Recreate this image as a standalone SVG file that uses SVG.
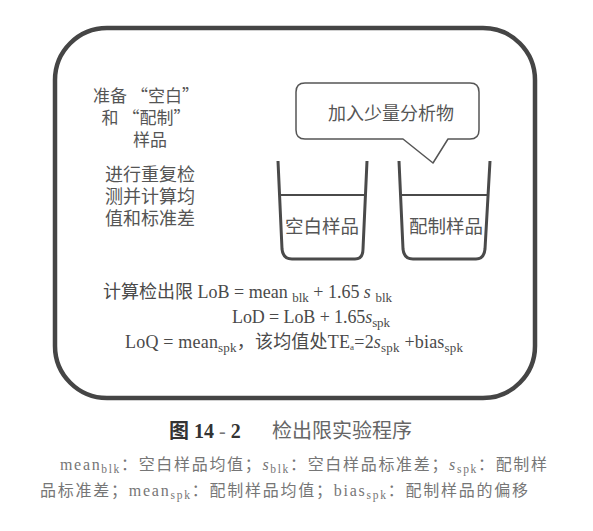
<svg xmlns="http://www.w3.org/2000/svg" width="593" height="531" viewBox="0 0 593 531">
<style>
.cjk{font-family:"Noto Sans CJK SC","Noto Sans",sans-serif;fill:#555}
.f{font-family:"Liberation Serif","Noto Sans CJK SC",serif;fill:#4a4a4a;font-size:18px}
.sub{font-size:13px}
.note{font-family:"Liberation Serif","Noto Sans CJK SC",serif;fill:#767676;font-size:16px}
.nsub{font-size:11.5px}
.beaker{fill:none;stroke:#4a4a4a;stroke-width:3;stroke-linejoin:round}
.liq{stroke:#4a4a4a;stroke-width:2}
</style>
<rect width="593" height="531" fill="#fff"/>
<g id="frame">
<rect x="55" y="28" width="480" height="370" rx="52" ry="52" fill="none" stroke="#454545" stroke-width="4.5"/>
</g>
<g id="steps" class="cjk" font-size="17">
<text x="146" y="102" text-anchor="middle">准备 “空白”</text>
<text x="146" y="124" text-anchor="middle">和 “配制”</text>
<text x="150" y="146" text-anchor="middle">样品</text>
<text x="150" y="181" text-anchor="middle" font-size="18">进行重复检</text>
<text x="150" y="203" text-anchor="middle" font-size="18">测并计算均</text>
<text x="150" y="225" text-anchor="middle" font-size="18">值和标准差</text>
</g>
<g id="bubble">
<path d="M305,83 H470 Q479,83 479,92 V130 Q479,139 470,139 H448 L433,163 L403,139 H305 Q296,139 296,130 V92 Q296,83 305,83 Z" fill="#fff" stroke="#555" stroke-width="1.5" stroke-linejoin="round"/>
<text x="391" y="120" text-anchor="middle" class="cjk" font-size="18">加入少量分析物</text>
</g>
<g id="blank-beaker">
<path class="beaker" d="M278,161 L282,249 Q283,259 292,259 L355,259 Q363,259 363,249 L367,161"/>
<line class="liq" x1="279" y1="195" x2="366" y2="195"/>
<text x="322" y="233" text-anchor="middle" class="cjk" font-size="18.5" fill="#666">空白样品</text>
</g>
<g id="spiked-beaker">
<path class="beaker" d="M399,161 L403,249 Q404,259 413,259 L476,259 Q484,259 485,249 L490,161"/>
<line class="liq" x1="400" y1="195" x2="489" y2="195"/>
<text x="446" y="233" text-anchor="middle" class="cjk" font-size="18.5" fill="#666">配制样品</text>
</g>
<g id="connectors"></g>
<g id="formulas">
<text class="f" x="103" y="298" textLength="289" lengthAdjust="spacing"><tspan>计算检出限</tspan> LoB = mean <tspan class="sub" dy="4">blk</tspan><tspan dy="-4"> + 1.65 </tspan><tspan font-style="italic">s</tspan> <tspan class="sub" dy="4">blk</tspan></text>
<text class="f" x="232" y="323" textLength="158" lengthAdjust="spacing">LoD = LoB + 1.65<tspan font-style="italic">s</tspan><tspan class="sub" dy="4">spk</tspan></text>
<text class="f" x="125" y="348" textLength="338" lengthAdjust="spacing">LoQ = mean<tspan class="sub" dy="4">spk</tspan><tspan dy="-4">，该均值处</tspan>TE<tspan font-size="9" dy="2">a</tspan><tspan dy="-2">=2</tspan><tspan font-style="italic">s</tspan><tspan class="sub" dy="4">spk</tspan><tspan dy="-4"> +bias</tspan><tspan class="sub" dy="4">spk</tspan></text>
</g>
<g id="caption">
<text x="169" y="438" font-family="Liberation Serif,'Noto Sans CJK SC',serif" font-size="20" fill="#666"><tspan font-weight="bold" fill="#333">图 14</tspan><tspan fill="#777" font-size="20"> - </tspan><tspan font-weight="bold" fill="#333">2</tspan><tspan x="272">检出限实验程序</tspan></text>
<text class="note" x="60" y="470" textLength="487" lengthAdjust="spacing">mean<tspan class="nsub" dy="3">blk</tspan><tspan dy="-3">：空白样品均值；</tspan><tspan font-style="italic">s</tspan><tspan class="nsub" dy="3">blk</tspan><tspan dy="-3">：空白样品标准差；</tspan><tspan font-style="italic">s</tspan><tspan class="nsub" dy="3">spk</tspan><tspan dy="-3">：配制样</tspan></text>
<text class="note" x="40" y="496" textLength="488" lengthAdjust="spacing">品标准差；mean<tspan class="nsub" dy="3">spk</tspan><tspan dy="-3">：配制样品均值；bias</tspan><tspan class="nsub" dy="3">spk</tspan><tspan dy="-3">：配制样品的偏移</tspan></text>
</g>
</svg>
